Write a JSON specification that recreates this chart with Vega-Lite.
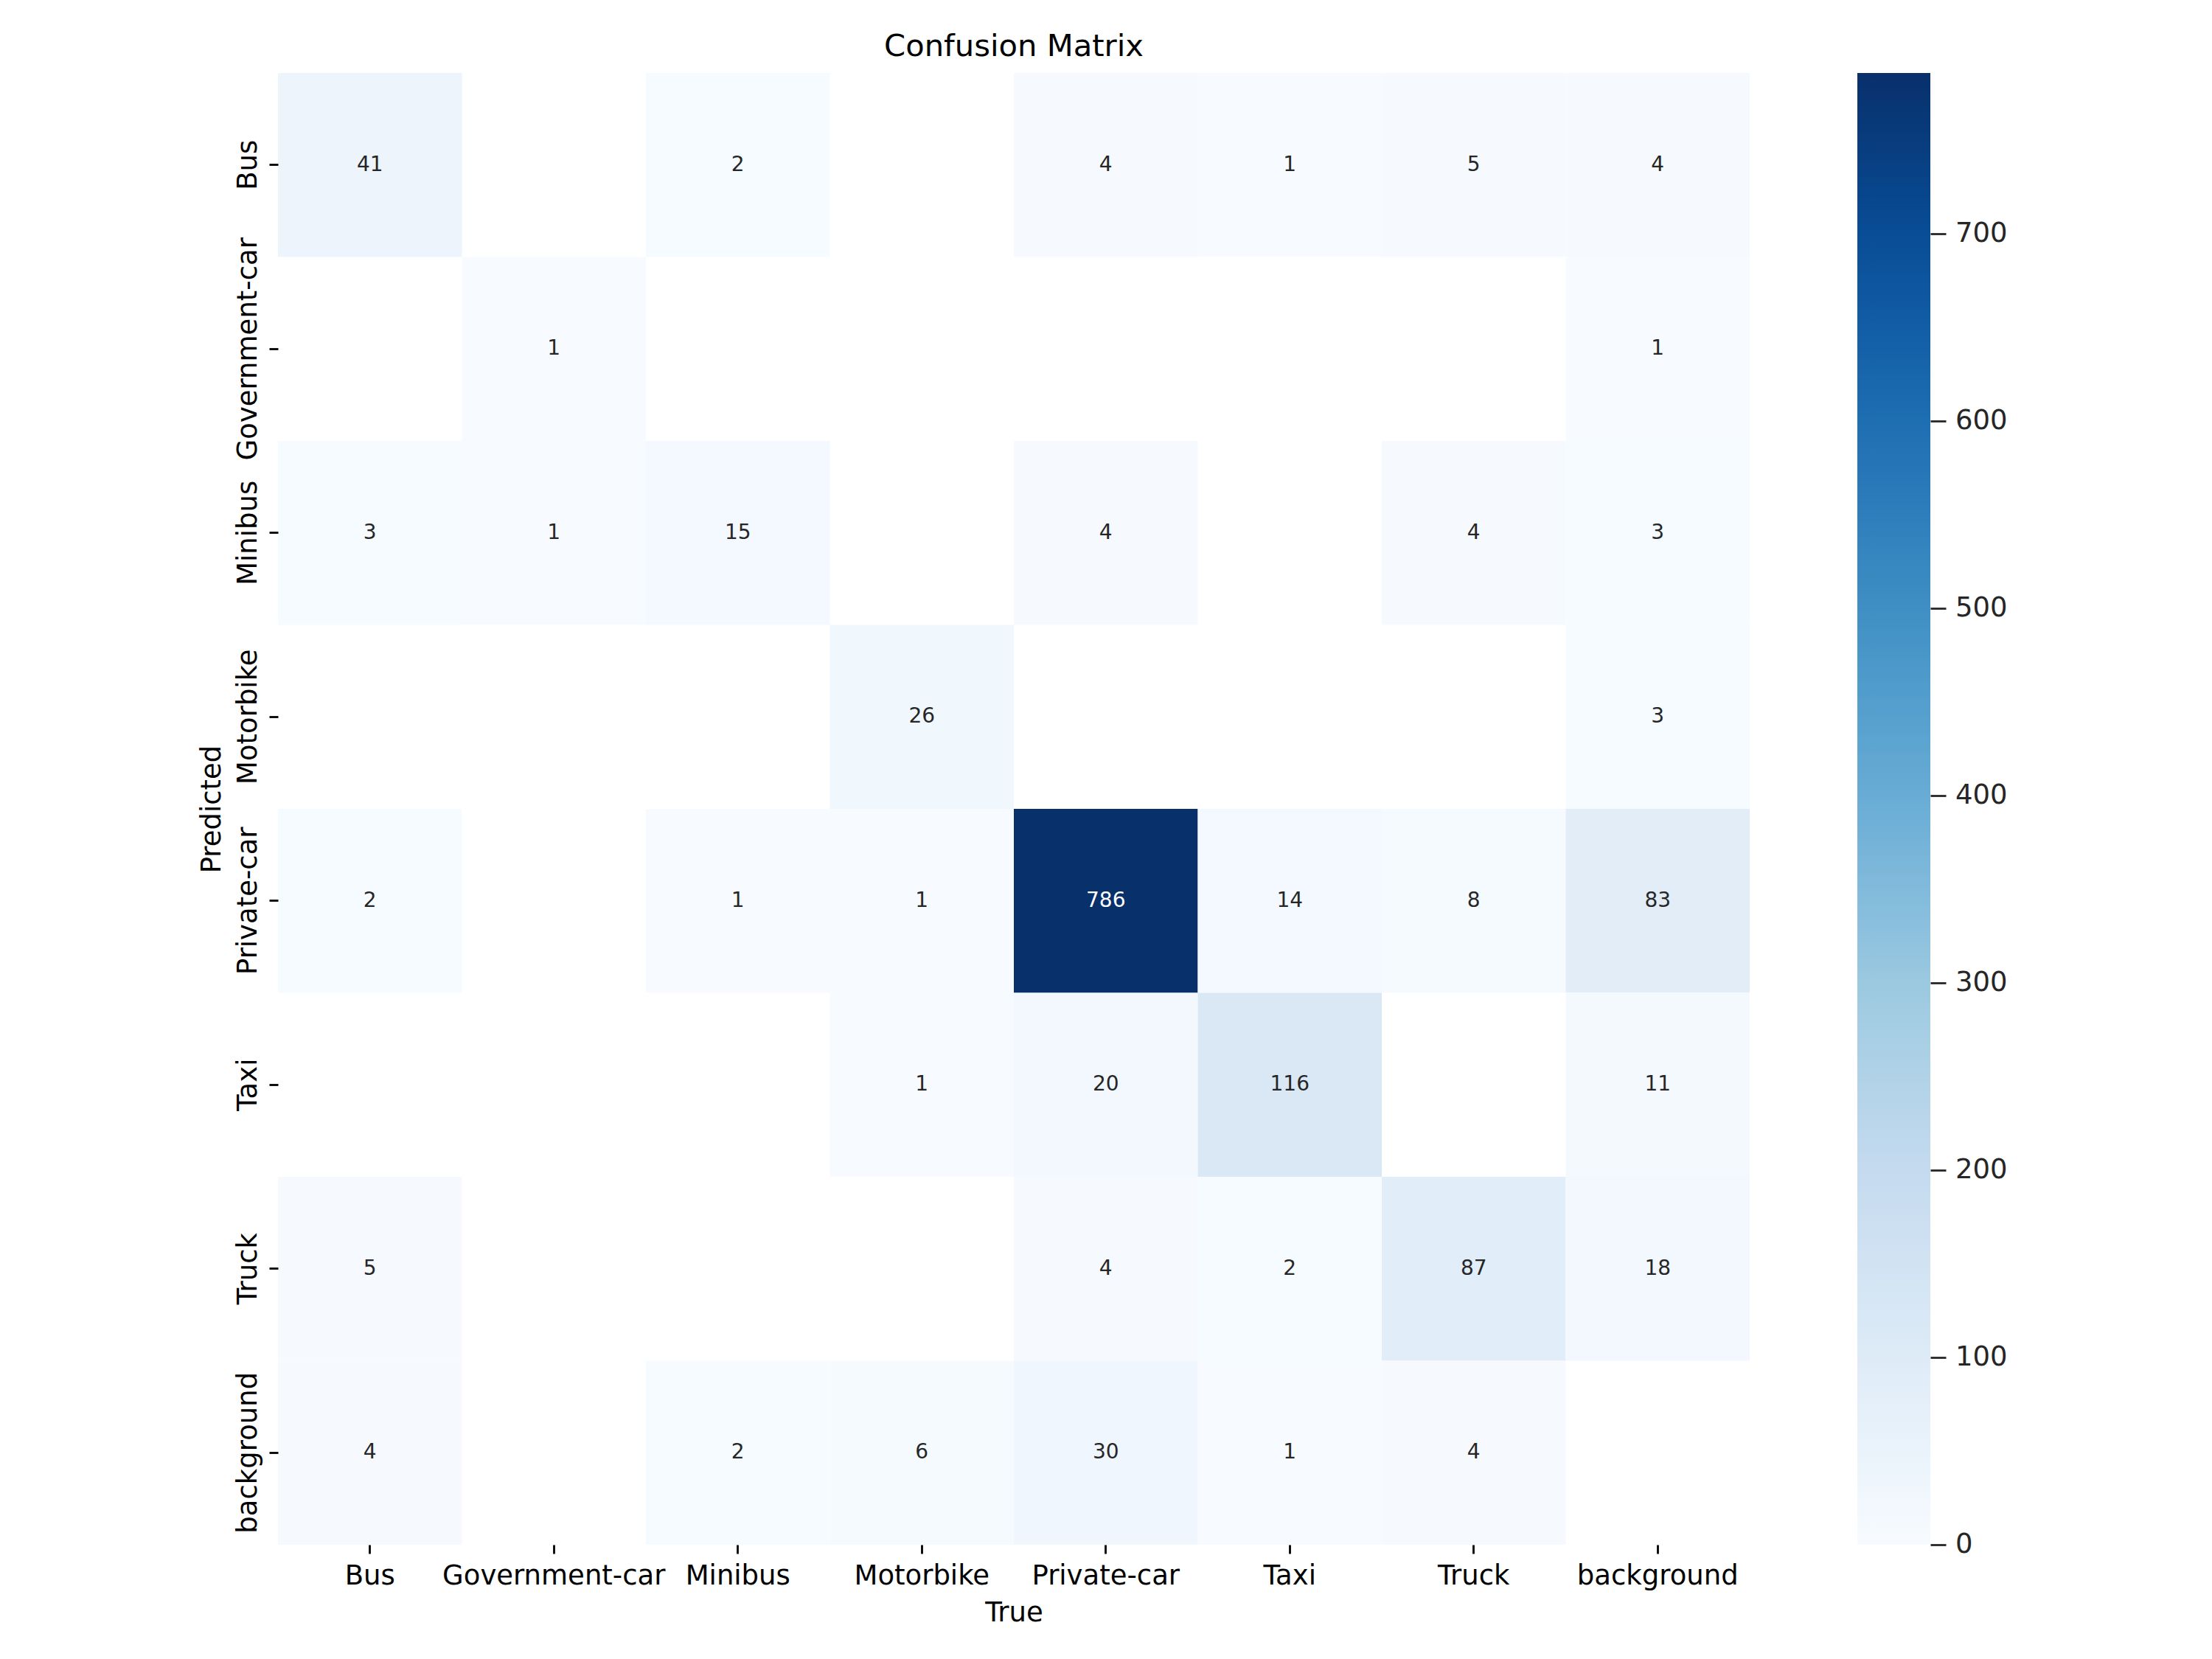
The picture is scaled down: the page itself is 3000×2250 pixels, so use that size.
{
  "$schema": "https://vega.github.io/schema/vega-lite/v6.json",
  "autosize": "none",
  "padding": {"left": 377, "top": 99, "right": 627, "bottom": 155},
  "width": 1996,
  "height": 1996,
  "background": "white",
  "title": {"text": "Confusion Matrix", "font": "DejaVu Sans", "fontSize": 41.7, "fontWeight": "normal", "color": "black", "baseline": "alphabetic", "offset": -21, "frame": "group", "anchor": "middle"},
  "config": {
    "view": {"stroke": null},
    "axis": {"labelFont": "DejaVu Sans", "labelFontSize": 37, "labelColor": "black", "titleFont": "DejaVu Sans", "titleFontSize": 37, "titleFontWeight": "normal", "titleColor": "black", "tickColor": "black", "tickWidth": 2.8, "tickSize": 12, "domain": false, "grid": false, "labelOverlap": false, "labelLimit": 0}
  },
  "data": {"values": [
    {"pred": "Bus", "true": "Bus", "count": 41},
    {"pred": "Bus", "true": "Minibus", "count": 2},
    {"pred": "Bus", "true": "Private-car", "count": 4},
    {"pred": "Bus", "true": "Taxi", "count": 1},
    {"pred": "Bus", "true": "Truck", "count": 5},
    {"pred": "Bus", "true": "background", "count": 4},
    {"pred": "Government-car", "true": "Government-car", "count": 1},
    {"pred": "Government-car", "true": "background", "count": 1},
    {"pred": "Minibus", "true": "Bus", "count": 3},
    {"pred": "Minibus", "true": "Government-car", "count": 1},
    {"pred": "Minibus", "true": "Minibus", "count": 15},
    {"pred": "Minibus", "true": "Private-car", "count": 4},
    {"pred": "Minibus", "true": "Truck", "count": 4},
    {"pred": "Minibus", "true": "background", "count": 3},
    {"pred": "Motorbike", "true": "Motorbike", "count": 26},
    {"pred": "Motorbike", "true": "background", "count": 3},
    {"pred": "Private-car", "true": "Bus", "count": 2},
    {"pred": "Private-car", "true": "Minibus", "count": 1},
    {"pred": "Private-car", "true": "Motorbike", "count": 1},
    {"pred": "Private-car", "true": "Private-car", "count": 786},
    {"pred": "Private-car", "true": "Taxi", "count": 14},
    {"pred": "Private-car", "true": "Truck", "count": 8},
    {"pred": "Private-car", "true": "background", "count": 83},
    {"pred": "Taxi", "true": "Motorbike", "count": 1},
    {"pred": "Taxi", "true": "Private-car", "count": 20},
    {"pred": "Taxi", "true": "Taxi", "count": 116},
    {"pred": "Taxi", "true": "background", "count": 11},
    {"pred": "Truck", "true": "Bus", "count": 5},
    {"pred": "Truck", "true": "Private-car", "count": 4},
    {"pred": "Truck", "true": "Taxi", "count": 2},
    {"pred": "Truck", "true": "Truck", "count": 87},
    {"pred": "Truck", "true": "background", "count": 18},
    {"pred": "background", "true": "Bus", "count": 4},
    {"pred": "background", "true": "Minibus", "count": 2},
    {"pred": "background", "true": "Motorbike", "count": 6},
    {"pred": "background", "true": "Private-car", "count": 30},
    {"pred": "background", "true": "Taxi", "count": 1},
    {"pred": "background", "true": "Truck", "count": 4}
  ]},
  "encoding": {
    "x": {"field": "true", "type": "nominal", "title": "True",
      "scale": {"domain": ["Bus", "Government-car", "Minibus", "Motorbike", "Private-car", "Taxi", "Truck", "background"], "paddingInner": 0, "paddingOuter": 0},
      "axis": {"labelAngle": 0, "labelAlign": "center", "labelBaseline": "alphabetic", "labelPadding": 41, "titleBaseline": "alphabetic", "titleX": 998, "titleY": 103, "titleAnchor": "middle"}}
  },
  "layer": [
    {
      "encoding": {
        "y": {"field": "pred", "type": "nominal", "title": "Predicted",
          "scale": {"domain": ["Bus", "Government-car", "Minibus", "Motorbike", "Private-car", "Taxi", "Truck", "background"], "paddingInner": 0, "paddingOuter": 0},
          "axis": {"orient": "left", "labelAngle": -90, "labelAlign": "center", "labelBaseline": "alphabetic", "labelPadding": 18, "titleAngle": -90, "titleBaseline": "alphabetic", "titleAlign": "center", "titleX": -79, "titleY": 998}}
      },
      "layer": [
        {"mark": {"type": "rect", "strokeWidth": 0},
         "encoding": {
           "color": {"field": "count", "type": "quantitative",
             "scale": {"type": "linear", "domain": [0, 98.25, 196.5, 294.75, 393, 491.25, 589.5, 687.75, 786], "range": ["#f7fbff", "#deebf7", "#c6dbef", "#9ecae1", "#6baed6", "#4292c6", "#2171b5", "#08519c", "#08306b"], "nice": false, "zero": false, "interpolate": "rgb"},
             "legend": {"title": null, "orient": "none", "direction": "vertical", "legendX": 2142, "legendY": 0, "padding": 0, "offset": 0, "gradientLength": 1996, "gradientThickness": 99, "gradientStrokeWidth": 0, "values": [0, 100, 200, 300, 400, 500, 600, 700], "labelFont": "DejaVu Sans", "labelFontSize": 37, "labelColor": "#262626", "labelOffset": 34, "labelBaseline": "middle", "labelAlign": "left", "labelOverlap": false,
               "encode": {"labels": {"update": {"baseline": {"value": "middle"}}}}}}
         }},
        {"mark": {"type": "text", "font": "DejaVu Sans", "fontSize": 28, "align": "center", "baseline": "middle"},
         "encoding": {
           "text": {"field": "count", "type": "quantitative"},
           "color": {"condition": {"test": "datum.count > 400", "value": "white"}, "value": "#262626"}
         }}
      ]
    },
    {"mark": {"type": "point", "opacity": 0},
     "encoding": {
       "y": {"field": "count", "type": "quantitative",
         "scale": {"domain": [0, 786], "nice": false, "zero": false},
         "axis": {"orient": "right", "offset": 245, "values": [0, 100, 200, 300, 400, 500, 600, 700], "labels": false, "title": null, "domain": false, "tickSize": 21, "tickColor": "#262626", "tickWidth": 2.8}}
     }}
  ],
  "resolve": {"scale": {"y": "independent"}, "axis": {"y": "independent"}}
}
